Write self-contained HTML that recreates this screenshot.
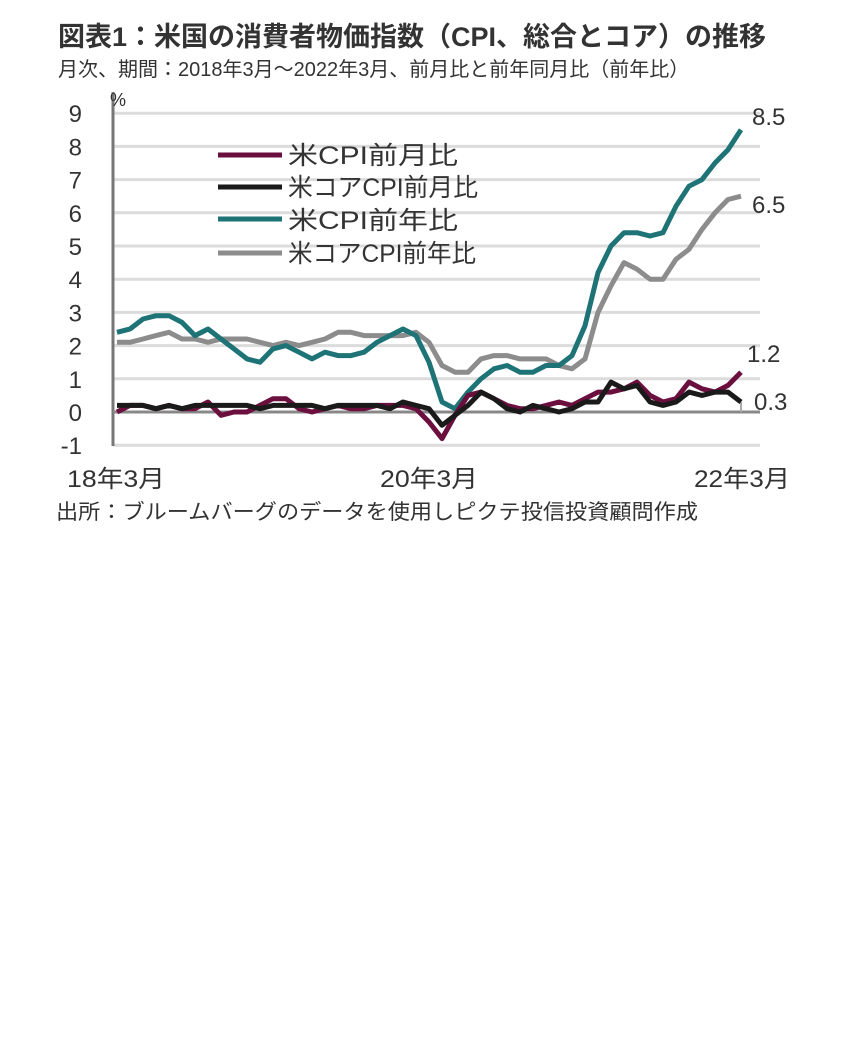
<!DOCTYPE html>
<html><head><meta charset="utf-8"><style>
body{margin:0;background:#fff;width:854px;height:1052px;overflow:hidden;font-family:"Liberation Sans","Noto Sans CJK JP",sans-serif;color:#333}
</style></head><body>
<svg width="854" height="1052" xmlns="http://www.w3.org/2000/svg" font-family="Liberation Sans, Noto Sans CJK JP, sans-serif">
<text x="58" y="46" font-size="27" font-weight="bold" fill="#333">図表1：米国の消費者物価指数（CPI、総合とコア）の推移</text>
<text x="58" y="76" font-size="20" fill="#333">月次、期間：2018年3月～2022年3月、前月比と前年同月比（前年比）</text>
<g id="grid" stroke="#dcdcdc" stroke-width="3"></g>
<line x1="113" y1="92" x2="113" y2="446" stroke="#777" stroke-width="3"/>
<line x1="113" y1="412" x2="760" y2="412" stroke="#888" stroke-width="3"/>
<line x1="741" y1="402" x2="741" y2="412" stroke="#aaa" stroke-width="2"/>
<g id="ylab" font-size="24" fill="#333" text-anchor="end"></g>
<text x="110" y="106" font-size="18" fill="#333">%</text>
<g id="lines" fill="none" stroke-width="5" stroke-linejoin="round"></g>
<g font-size="25" fill="#333">
<line x1="218" y1="155" x2="282" y2="155" stroke="#6b0f3f" stroke-width="5"/><text x="288" y="164" textLength="170" lengthAdjust="spacingAndGlyphs">米CPI前月比</text>
<line x1="218" y1="187" x2="282" y2="187" stroke="#1a1a1a" stroke-width="5"/><text x="288" y="196" textLength="190" lengthAdjust="spacingAndGlyphs">米コアCPI前月比</text>
<line x1="218" y1="219" x2="282" y2="219" stroke="#1d7375" stroke-width="5"/><text x="288" y="229" textLength="170" lengthAdjust="spacingAndGlyphs">米CPI前年比</text>
<line x1="218" y1="253" x2="282" y2="253" stroke="#8c8c8c" stroke-width="5"/><text x="288" y="262" textLength="188" lengthAdjust="spacingAndGlyphs">米コアCPI前年比</text>
</g>
<g font-size="24" fill="#333">
<text x="752" y="125">8.5</text><text x="752" y="213">6.5</text>
<text x="747" y="362">1.2</text><text x="754" y="410">0.3</text>
<text x="67" y="487" textLength="98" lengthAdjust="spacingAndGlyphs">18年3月</text><text x="380" y="487" textLength="98" lengthAdjust="spacingAndGlyphs">20年3月</text><text x="694" y="487" textLength="96" lengthAdjust="spacingAndGlyphs">22年3月</text>
</g>
<text x="56" y="519" font-size="21" fill="#333" textLength="642" lengthAdjust="spacingAndGlyphs">出所：ブルームバーグのデータを使用しピクテ投信投資顧問作成</text>
</svg>
<script>
const y=v=>412-33.2*v, x=i=>117+i*13;
const g=document.getElementById('grid'),yl=document.getElementById('ylab'),L=document.getElementById('lines');
const ns='http://www.w3.org/2000/svg';
for(let v=-1;v<=9;v++){if(v!==0){const l=document.createElementNS(ns,'line');l.setAttribute('x1',113);l.setAttribute('x2',760);l.setAttribute('y1',y(v));l.setAttribute('y2',y(v));g.appendChild(l);}
const t=document.createElementNS(ns,'text');t.setAttribute('x',82);t.setAttribute('y',y(v)+9);t.textContent=v<0?'-1':v;yl.appendChild(t);}
const cpiY=[2.4,2.5,2.8,2.9,2.9,2.7,2.3,2.5,2.2,1.9,1.6,1.5,1.9,2.0,1.8,1.6,1.8,1.7,1.7,1.8,2.1,2.3,2.5,2.3,1.5,0.3,0.1,0.6,1.0,1.3,1.4,1.2,1.2,1.4,1.4,1.7,2.6,4.2,5.0,5.4,5.4,5.3,5.4,6.2,6.8,7.0,7.5,7.9,8.5];
const coreY=[2.1,2.1,2.2,2.3,2.4,2.2,2.2,2.1,2.2,2.2,2.2,2.1,2.0,2.1,2.0,2.1,2.2,2.4,2.4,2.3,2.3,2.3,2.3,2.4,2.1,1.4,1.2,1.2,1.6,1.7,1.7,1.6,1.6,1.6,1.4,1.3,1.6,3.0,3.8,4.5,4.3,4.0,4.0,4.6,4.9,5.5,6.0,6.4,6.5];
const cpiM=[0.0,0.2,0.2,0.1,0.2,0.1,0.1,0.3,-0.1,0.0,0.0,0.2,0.4,0.4,0.1,0.0,0.1,0.2,0.1,0.1,0.2,0.2,0.2,0.1,-0.3,-0.8,-0.1,0.5,0.6,0.4,0.2,0.1,0.1,0.2,0.3,0.2,0.4,0.6,0.6,0.7,0.9,0.5,0.3,0.4,0.9,0.7,0.6,0.8,1.2];
const coreM=[0.2,0.2,0.2,0.1,0.2,0.1,0.2,0.2,0.2,0.2,0.2,0.1,0.2,0.2,0.2,0.2,0.1,0.2,0.2,0.2,0.2,0.1,0.3,0.2,0.1,-0.4,-0.1,0.2,0.6,0.4,0.1,0.0,0.2,0.1,0.0,0.1,0.3,0.3,0.9,0.7,0.8,0.3,0.2,0.3,0.6,0.5,0.6,0.6,0.3];
[[coreY,'#8c8c8c'],[cpiY,'#1d7375'],[cpiM,'#6b0f3f'],[coreM,'#1a1a1a']].forEach(([d,c])=>{const p=document.createElementNS(ns,'polyline');p.setAttribute('points',d.map((v,i)=>x(i)+','+y(v).toFixed(1)).join(' '));p.setAttribute('stroke',c);L.appendChild(p);});
</script>
</body></html>
